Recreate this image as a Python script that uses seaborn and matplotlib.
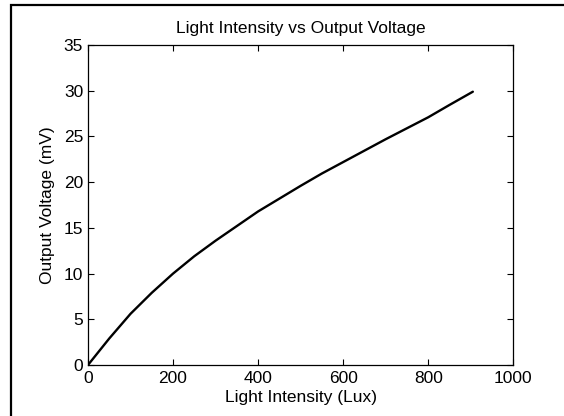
# Light intensity vs output voltage

import numpy as np
import pandas as pd
import matplotlib
matplotlib.use('Agg')
import matplotlib.pyplot as plt
import seaborn as sns
from matplotlib.patches import Rectangle

# Values
lux = [0, 50, 100, 150, 200, 250, 300, 350, 400, 450, 500, 550, 600,
       650, 700, 750, 800, 850, 905]
voltage = [0, 2.9, 5.6, 7.9, 10.0, 11.9, 13.6, 15.2, 16.8, 18.2, 19.6, 20.95, 22.2,
           23.45, 24.7, 25.9, 27.1, 28.45, 29.9]

x_ticks = [0, 200, 400, 600, 800, 1000]
y_ticks = [0, 5, 10, 15, 20, 25, 30, 35]

chart_df = pd.DataFrame({'lux': lux, 'voltage': voltage})

sns.set_theme(style = 'white')
plt.rcParams['font.family'] = ['Liberation Sans', 'DejaVu Sans']
plt.rcParams['xtick.direction'] = 'in'
plt.rcParams['ytick.direction'] = 'in'

fig = plt.figure(figsize = (5.64, 4.16), dpi = 100)
ax = fig.add_axes([0.156, 0.1226, 0.754, 0.769])

sns.lineplot(ax = ax,
             data = chart_df,
             x = 'lux',
             y = 'voltage',
             color = 'black',
             linewidth = 1.7)

ax.set_xlim(0, 1000)
ax.set_ylim(0, 35)
ax.set_xticks(x_ticks)
ax.set_yticks(y_ticks)
ax.tick_params(axis = 'both', which = 'both', length = 4, width = 0.8,
               color = 'black', labelsize = 12.5, labelcolor = 'black',
               top = True, right = True, bottom = True, left = True)
ax.tick_params(axis = 'x', pad = 4)
ax.tick_params(axis = 'y', pad = 3.5)

for spine in ax.spines.values():
    spine.set_color('black')
    spine.set_linewidth(0.9)

ax.set_title('Light Intensity vs Output Voltage', fontsize = 12.5, color = 'black', pad = 9)
ax.set_xlabel('Light Intensity (Lux)', fontsize = 12.5, color = 'black', labelpad = 3)
ax.set_ylabel('Output Voltage (mV)', fontsize = 12.5, color = 'black', labelpad = 6)

# Outer frame as in the original screenshot
fig.patches.append(Rectangle((11 / 564, -0.1), 1.2, 1.1 - 5 / 416,
                             transform = fig.transFigure, fill = False,
                             edgecolor = 'black', linewidth = 1.6, clip_on = False))

fig.savefig('out.png', dpi = 100)
plt.close()
